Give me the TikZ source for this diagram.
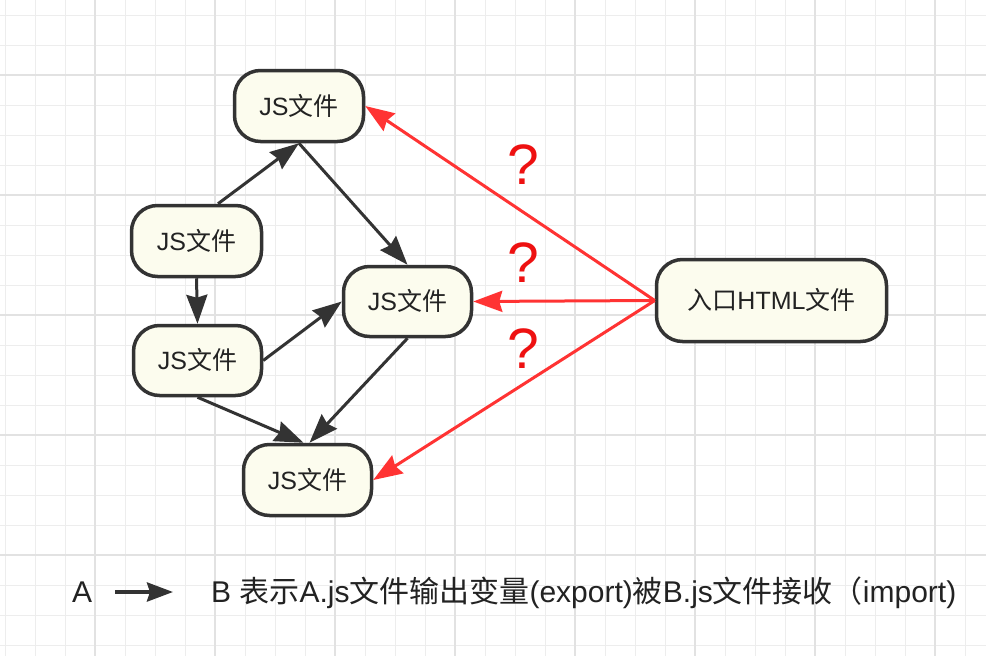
\documentclass[tikz,border=0pt]{standalone}
\usepackage{fontspec}
\setmainfont{Liberation Sans}
\newfontfamily\cjk{Noto Sans CJK SC}
\usetikzlibrary{arrows.meta,calc}
\definecolor{gridminor}{HTML}{EDEDED}
\definecolor{gridmajor}{HTML}{E2E2E2}
\definecolor{nodefill}{HTML}{FCFCEE}
\definecolor{edgeblack}{HTML}{333333}
\definecolor{edgered}{HTML}{FF3333}
\definecolor{qred}{HTML}{EE1111}
\definecolor{txt}{HTML}{222222}
\begin{document}
\begin{tikzpicture}[x=1pt,y=-1pt,
  jsbox/.style={draw=edgeblack, line width=3.5pt, fill=nodefill, rounded corners=26pt,
    inner sep=0pt, text height=18pt, text depth=0pt, text=txt,
    font=\fontsize{25}{30}\selectfont},
  blackedge/.style={draw=edgeblack, line width=3pt,
    -{Stealth[length=29pt,width=21pt,inset=3pt]}},
  rededge/.style={draw=edgered, line width=3pt,
    -{Stealth[length=29pt,width=21pt,inset=3pt]}},
  qmark/.style={text=qred, inner sep=0pt, text height=41pt, text depth=0pt,
    font=\fontsize{57}{60}\selectfont},
  legendtext/.style={text=txt, inner sep=0pt, anchor=base west,
    font=\fontsize{30}{34}\selectfont}]
\useasboundingbox (0,0) rectangle (986,656);
\fill[white] (0,0) rectangle (986,656);
% grid
\foreach \x in {5,35,...,985} \draw[gridminor, line width=1pt] (\x,0) -- (\x,656);
\foreach \y in {15,45,...,655} \draw[gridminor, line width=1pt] (0,\y) -- (986,\y);
\foreach \x in {95,215,...,935} \draw[gridmajor, line width=2pt] (\x,0) -- (\x,656);
\foreach \y in {75,195,...,555} \draw[gridmajor, line width=2pt] (0,\y) -- (986,\y);
% nodes
\node[jsbox, minimum width=129pt, minimum height=71pt] (top) at (299,106) {JS{\cjk 文件}};
\node[jsbox, minimum width=130pt, minimum height=71pt] (lm) at (196.5,241) {JS{\cjk 文件}};
\node[jsbox, minimum width=128pt, minimum height=70pt] (mid) at (407.5,301.5) {JS{\cjk 文件}};
\node[jsbox, minimum width=128pt, minimum height=70pt] (lb) at (197.5,360.5) {JS{\cjk 文件}};
\node[jsbox, minimum width=128pt, minimum height=71pt] (bot) at (307.5,480) {JS{\cjk 文件}};
\node[jsbox, minimum width=230pt, minimum height=82pt] (html) at (771.5,300.5) {{\cjk 入口}HTML{\cjk 文件}};
% black edges
\draw[blackedge] (lm.60) -- (top.south);
\draw[blackedge] (top.south) -- (mid.north);
\draw[blackedge] (lm.south) -- (lb.north);
\draw[blackedge] (lb.east) -- (mid.west);
\draw[blackedge] (lb.south) -- ($(bot.north)+(-4,0)$);
\draw[blackedge] (mid.south) -- ($(bot.north)+(2,0)$);
% red edges
\draw[rededge] (html.west) -- (top.east);
\draw[rededge] (html.west) -- (mid.east);
\draw[rededge] (html.west) -- (bot.east);
% question marks
\node[qmark] (q1) at (523,164) {?};
\node[qmark] (q2) at (523,262) {?};
\node[qmark] (q3) at (523,348) {?};
% legend
\node[legendtext] (la) at (72,602) {A};
\coordinate (l1) at (115,592);
\coordinate (l2) at (173,592);
\draw[draw=edgeblack, line width=4pt, -{Stealth[length=26pt,width=19pt,inset=3pt]}] (l1) -- (l2);
\node[legendtext] (lt) at (211,602) {B {\cjk 表示}A.js{\cjk 文件输出变量}(export){\cjk 被}B.js{\cjk 文件接收（}import)};
\end{tikzpicture}
\end{document}
